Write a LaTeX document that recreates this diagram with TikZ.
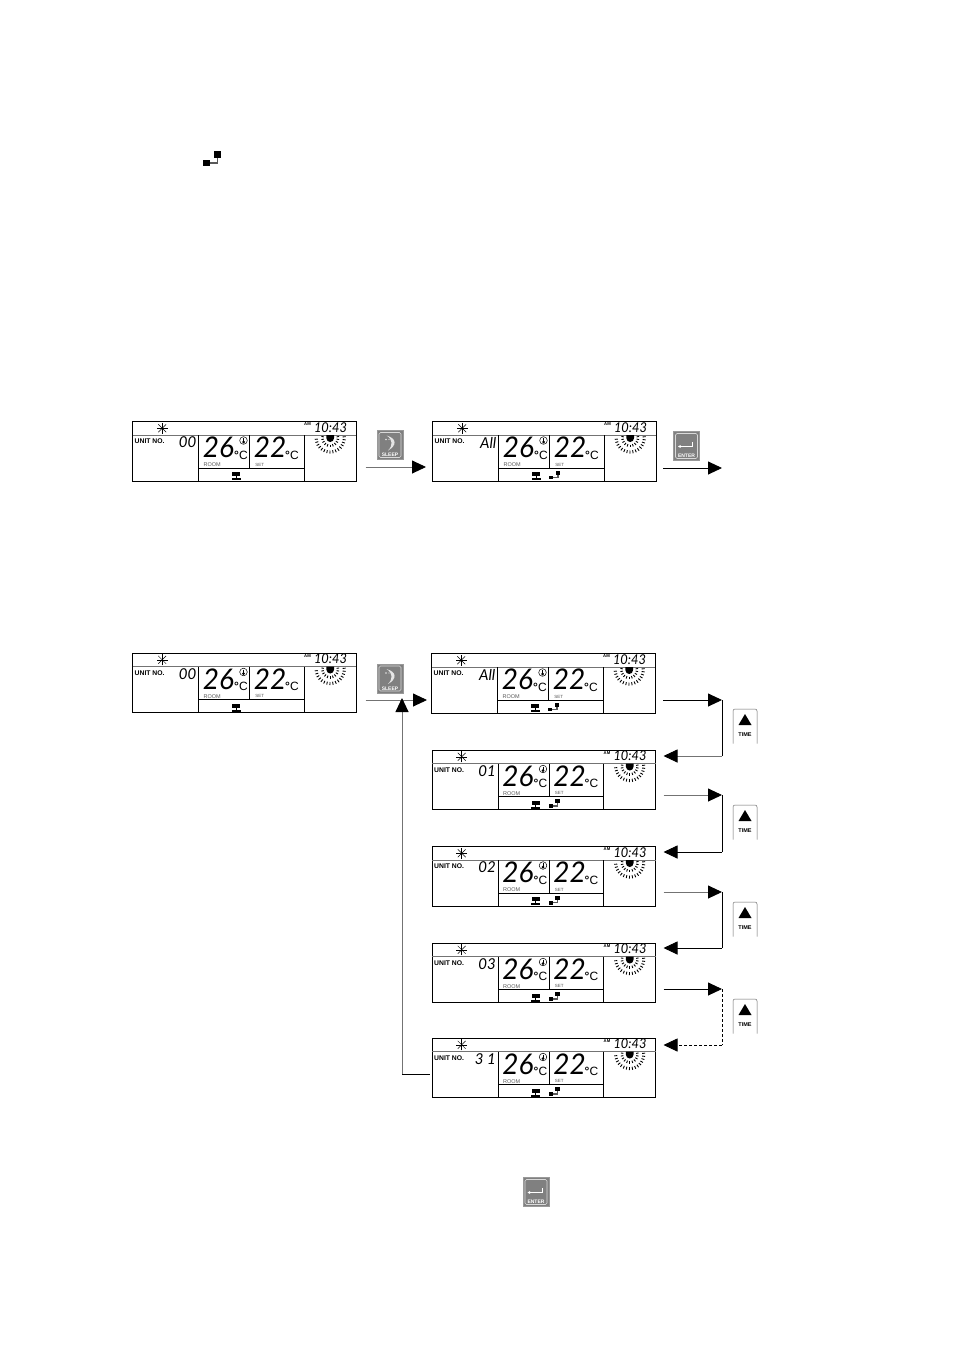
\documentclass[tikz,border=0pt]{standalone}
\usepackage{fontspec}
\setmainfont{Liberation Sans}
\newfontfamily\segfont{Lato}
\usetikzlibrary{arrows.meta}

\tikzset{
  lcdbox/.style={draw=black,line width=0.9pt,anchor=north west,inner sep=0pt,outer sep=0pt,
                 minimum width=223.5pt,minimum height=59.5pt},
  lcdline/.style={line width=0.9pt},
  lcdfaint/.style={line width=0.9pt,draw=black!55},
  lcdbig/.style={font=\segfont\itshape\fontsize{28.5}{29}\selectfont,inner sep=0pt,xscale=0.98,transform shape},
  lcdsmall/.style={font=\segfont\itshape\fontsize{15}{15}\selectfont,inner sep=0pt},
  lcdtime/.style={font=\segfont\itshape\fontsize{13.5}{14}\selectfont,inner sep=0pt,xscale=0.95,transform shape},
  unitlabel/.style={font=\bfseries\fontsize{6.8}{7}\selectfont,inner sep=0pt,anchor=west},
  graylabel/.style={font=\fontsize{5.5}{5.5}\selectfont,text=black!65,inner sep=0pt,anchor=west},
  deglabel/.style={font=\fontsize{12}{12}\selectfont,inner sep=0pt,anchor=west},
  amlabel/.style={font=\bfseries\fontsize{4.2}{4.5}\selectfont,inner sep=0pt},
  keybox/.style={fill=black!50,draw=black!40,line width=0.5pt,inner sep=0pt,outer sep=0pt,
                 minimum width=26pt,minimum height=29pt},
  keyinner/.style={draw=black!15,line width=0.6pt,rounded corners=1.5pt},
  keytext/.style={font=\bfseries\fontsize{5}{5}\selectfont,text=white,inner sep=0pt},
  timekey/.style={line width=0.5pt,draw=black!60,rounded corners=2pt},
  timetext/.style={font=\bfseries\fontsize{5.5}{6}\selectfont,inner sep=0pt},
  flowblack/.style={line width=0.9pt,draw=black},
  flowgray/.style={line width=0.9pt,draw=black!55},
  flowdash/.style={line width=0.8pt,draw=black,densely dashed},
  headtip/.style={-{Triangle[length=14pt,width=13pt,color=black,fill=black]}},
}

% icon with two blocks and a bent wire
\newcommand{\wireicon}[3]{
  \begin{scope}[shift={(#1,#2)},scale=#3]
    \fill (0,8.5) rectangle (7,14.5);
    \fill (11,0) rectangle (18,7);
    \draw[black!65,line width=1.4pt] (7,11.5) -- (14.5,11.5) -- (14.5,7);
  \end{scope}
}

% name, left, top, unit digits, wire icon or nothing
\newcommand{\lcdpanel}[5]{
  \node[lcdbox] (#1) at (#2,#3) {};
  \begin{scope}[shift={(#2,#3)}]
    \draw[lcdfaint] (0,13.5) -- (223.5,13.5);
    \draw[lcdline] (66,13.5) -- (66,59.5);
    \draw[lcdline] (117,13.5) -- (117,46.5);
    \draw[lcdline] (171.5,13.5) -- (171.5,59.5);
    \draw[lcdline] (66,46.5) -- (171.5,46.5);
    % snowflake
    \foreach \a in {0,45,90,135}
      \draw[line width=0.5pt] (29.7,6.8)+(\a:5.5) -- +(\a+180:5.5);
    \node[amlabel] (#1am) at (175,3) {AM};
    \node[lcdtime] (#1time) at (198,6) {10:43};
    \node[unitlabel] (#1unit) at (2,20) {UNIT NO.};
    \node[lcdsmall,anchor=east] (#1num) at (64,21) {#4};
    \node[lcdbig] (#1room) at (86,26) {26};
    \node[deglabel] (#1degr) at (101.5,33.5) {\textbf{°}C};
    \node[graylabel] (#1rlab) at (71,43.2) {ROOM};
    \node[lcdbig] (#1set) at (137.5,26) {22};
    \node[deglabel] (#1degs) at (152.5,33.5) {\textbf{°}C};
    \node[graylabel,font=\fontsize{4.5}{5}\selectfont] (#1slab) at (122.7,43.2) {SET};
    % thermometer mark
    \draw[line width=0.5pt] (111,19) circle (3.8);
    \fill (111,20.5) circle (1.5);
    \draw[line width=0.8pt] (111,16.5) -- (111,20);
    % indoor unit mark
    \fill (99.7,50.5) rectangle (107.7,54.5);
    \draw[line width=0.9pt] (103.7,54) -- (103.7,58);
    \fill (99.2,56.8) rectangle (108.2,58.5);
    #5
    % fan
    \begin{scope}[shift={(197.7,16.5)}]
      \fill (-3.8,-3) -- (-3.8,0.2) arc[start angle=180,end angle=0,radius=3.8] -- (3.8,-3) -- cycle;
      \foreach \a in {-10,10,...,190}
        \draw[line width=0.9pt] (\a:6.5) -- (\a:9);
      \foreach \a in {-5,7,...,185}
        \draw[line width=0.9pt] (\a:12.5) -- (\a:15.5);
    \end{scope}
  \end{scope}
}

\newcommand{\sleepkey}[3]{
  \begin{scope}[shift={(#2,#3)}]
    \node[keybox] (#1) at (13,14.5) {};
    \draw[keyinner] (2,2) rectangle (24,27);
    \fill[black!10] (9.5,5) .. controls (20,8) and (20,15) .. (11,20)
      .. controls (16,15) and (16,9) .. (9.5,5);
    \fill[black!10] (9,9) circle (0.8) (12,9) circle (0.6);
    \node[keytext] (#1txt) at (13,24.5) {SLEEP};
  \end{scope}
}

\newcommand{\enterkey}[3]{
  \begin{scope}[shift={(#2,#3)}]
    \node[keybox] (#1) at (13,14.5) {};
    \draw[keyinner] (2,2) rectangle (24,27);
    \draw[white,line width=0.9pt] (6,15) -- (19,15) -- (19,10);
    \fill[white] (4.5,15) -- (7,13.5) -- (7,16.5) -- cycle;
    \node[keytext] (#1txt) at (13,24.5) {ENTER};
  \end{scope}
}

\newcommand{\timekeypad}[3]{
  \begin{scope}[shift={(#2,#3)}]
    \coordinate (#1) at (12,17);
    \draw[timekey] (0,34.5) -- (0,0) -- (24,0) -- (24,34.5);
    \fill (12,5) -- (18.5,16) -- (5.5,16) -- cycle;
    \node[timetext] (#1txt) at (12,26) {TIME};
  \end{scope}
}

\begin{document}
\begin{tikzpicture}[x=1pt,y=-1pt]
  \useasboundingbox (0,0) rectangle (954,1351);
  \fill[white] (0,0) rectangle (954,1351);

  \wireicon{203}{151.5}{1}

  % first row
  \lcdpanel{lcdone}{132.5}{421.5}{00}{}
  \lcdpanel{lcdtwo}{432.5}{421.5}{All}{\wireicon{116.5}{49}{0.62}}
  \sleepkey{sleepone}{377}{430.5}
  \enterkey{enterone}{673.5}{431.5}

  \coordinate (flowone) at (426,467);
  \coordinate (flowtwo) at (722,468);
  \draw[flowgray,headtip,shorten <=9.5pt] (lcdone.east |- flowone) -- (flowone);
  \draw[flowblack,headtip,shorten <=7pt] (lcdtwo.east |- flowtwo) -- (flowtwo);

  % second row
  \lcdpanel{lcdidle}{132.5}{653}{00}{}
  \lcdpanel{lcdall}{431.5}{653.5}{All}{\wireicon{116.5}{49}{0.62}}
  \lcdpanel{lcdunita}{432}{750}{01}{\wireicon{116.5}{49}{0.62}}
  \lcdpanel{lcdunitb}{432}{846.5}{02}{\wireicon{116.5}{49}{0.62}}
  \lcdpanel{lcdunitc}{432}{943}{03}{\wireicon{116.5}{49}{0.62}}
  \lcdpanel{lcdunitz}{432}{1038}{3 1}{\wireicon{116.5}{49}{0.62}}

  \sleepkey{sleeptwo}{377}{664}
  \enterkey{entertwo}{523}{1177.5}
  \timekeypad{timea}{733}{709}
  \timekeypad{timeb}{733}{805}
  \timekeypad{timec}{733}{902}
  \timekeypad{timed}{733}{999}

  \coordinate (flowidle) at (427,700);
  \draw[flowgray,headtip,shorten <=9.5pt] (lcdidle.east |- flowidle) -- (flowidle);

  \coordinate (outa) at (722,700);
  \coordinate (backa) at (722,756);
  \coordinate (outb) at (722,795);
  \coordinate (backb) at (722,852);
  \coordinate (outc) at (722,892);
  \coordinate (backc) at (722,948);
  \coordinate (outd) at (722,989);
  \coordinate (backd) at (722,1045);

  \draw[flowblack,headtip,shorten <=8pt] (lcdall.east |- outa) -- (outa);
  \draw[flowblack] (outa) -- (backa);
  \draw[flowgray,headtip,shorten >=8pt] (backa) -- (lcdunita.east |- backa);

  \draw[flowgray,headtip,shorten <=8pt] (lcdunita.east |- outb) -- (outb);
  \draw[flowblack] (outb) -- (backb);
  \draw[flowblack,headtip,shorten >=8pt] (backb) -- (lcdunitb.east |- backb);

  \draw[flowgray,headtip,shorten <=8pt] (lcdunitb.east |- outc) -- (outc);
  \draw[flowblack] (outc) -- (backc);
  \draw[flowblack,headtip,shorten >=8pt] (backc) -- (lcdunitc.east |- backc);

  \draw[flowblack,headtip,shorten <=8pt] (lcdunitc.east |- outd) -- (outd);
  \draw[flowdash] (outd) -- (backd);
  \draw[flowdash,headtip,shorten >=8pt] (backd) -- (lcdunitz.east |- backd);

  \coordinate (backcorner) at (402,1074);
  \coordinate (backtip) at (402,698);
  \draw[flowblack,shorten <=2.5pt] (lcdunitz.west |- backcorner) -- (backcorner);
  \draw[flowgray,headtip] (backcorner) -- (backtip);
\end{tikzpicture}
\end{document}
